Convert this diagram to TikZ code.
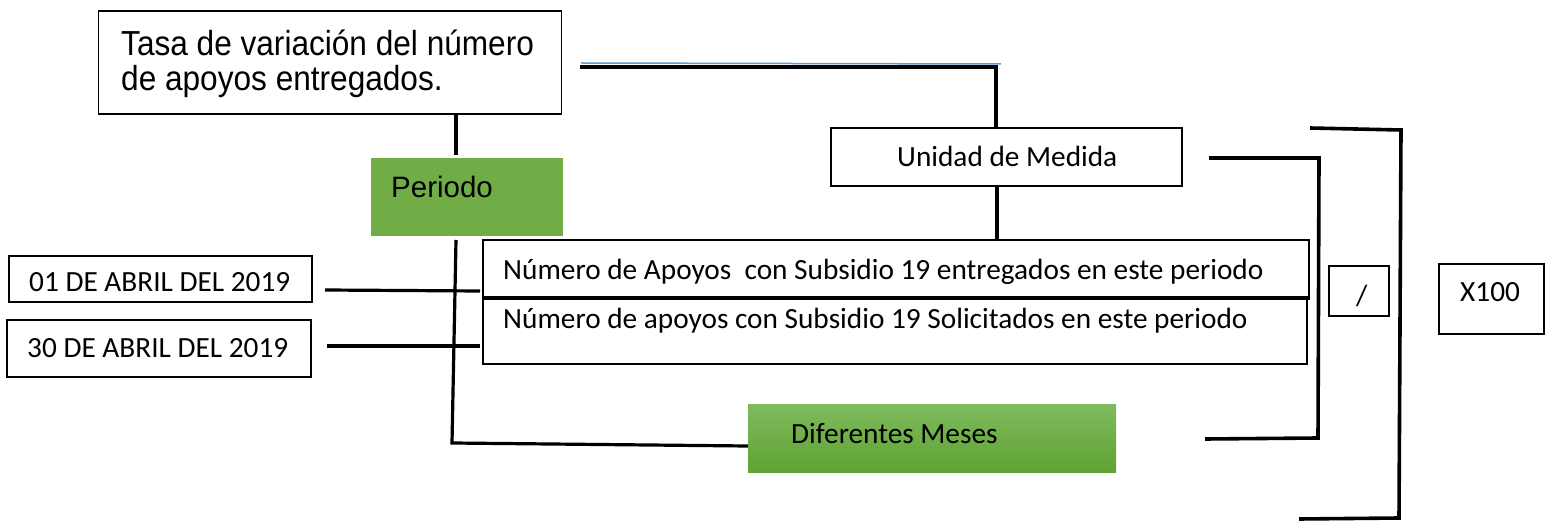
\documentclass[tikz,border=0pt]{standalone}
\usepackage{fontspec}
\setmainfont{Carlito}
\newfontfamily\arialf{Liberation Sans}
\definecolor{pgreen}{HTML}{70AD47}
\definecolor{gtop}{HTML}{7EBB5E}
\definecolor{gbot}{HTML}{60A232}
\definecolor{bline}{HTML}{5B9BD5}
\begin{document}
\begin{tikzpicture}[x=1pt,y=-1pt,
  box/.style={draw=black,line width=1.2pt,minimum width=#1,inner sep=0pt},
  conn/.style={draw=black,line width=3.2pt,line join=miter},
  txt/.style={inner sep=0pt,anchor=base west,font=\fontsize{29.3}{34}\selectfont},
  atxt/.style={inner sep=0pt,anchor=base west,font=\arialf\fontsize{31.6}{32.7}\selectfont}]
\useasboundingbox (0,0) rectangle (1556,521);
% boxes
\node[box=463pt,minimum height=103pt] (title) at (330,62.5) {};
\node[fill=pgreen,minimum width=192pt,minimum height=78pt,inner sep=0pt] (periodo) at (467,197) {};
\node[box=351pt,minimum height=58pt,line width=2.3pt] (unidad) at (1006.5,157) {};
\node[box=826pt,minimum height=59pt] (b1) at (896,269.5) {};
\node[box=824pt,minimum height=67pt] (b2) at (895,330.5) {};
\node[box=303pt,minimum height=46pt] (d1) at (160.5,279) {};
\node[box=304pt,minimum height=57pt] (d2) at (159,348.5) {};
\node[top color=gtop,bottom color=gbot,minimum width=368pt,minimum height=68pt,inner sep=0pt] (dif) at (932,438) {};
\node[box=60pt,minimum height=50pt] (slash) at (1359,291) {};
\node[box=105pt,minimum height=70pt] (xcien) at (1491.5,299) {};
% texts
\node[atxt] (titlet) at (121,91) {\scalebox{1}[1.1]{\begin{tabular}[b]{@{}l@{}}Tasa de variación del número\\de apoyos entregados.\end{tabular}}};
\node[atxt,font=\arialf\fontsize{29.5}{34}\selectfont] (periodot) at (391,198) {Periodo};
\node[txt] (unidadt) at (897,167) {Unidad de Medida};
\node[txt] (b1t) at (503,280) {Número de Apoyos\ \ con Subsidio 19 entregados en este periodo};
\node[txt] (b2t) at (503,329) {Número de apoyos con Subsidio 19 Solicitados en este periodo};
\node[txt] (d1t) at (29,292) {01 DE ABRIL DEL 2019};
\node[txt] (d2t) at (27,357) {30 DE ABRIL DEL 2019};
\node[txt] (dift) at (791,443) {Diferentes Meses};
\node[txt] (slasht) at (1356,306) {/};
\node[txt] (xcient) at (1460,302) {X100};
% coordinates
\coordinate (tl0) at (580,67);
\coordinate (tl1) at (996,67);
\coordinate (bl0) at (581,63);
\coordinate (bl1) at (1001,64);
\coordinate (pv0) at (456,114);
\coordinate (pv1) at (456,155);
\coordinate (pd0) at (456,240);
\coordinate (pd1) at (452,443);
\coordinate (u0) at (997,186);
\coordinate (u1) at (997,240);
\coordinate (l1a) at (325,290);
\coordinate (l1b) at (480,291);
\coordinate (l2a) at (327,346);
\coordinate (l2b) at (480,346);
\coordinate (ib0) at (1209,158);
\coordinate (ib1) at (1319,158);
\coordinate (ib2) at (1318,438);
\coordinate (ib3) at (1205,439);
\coordinate (ob0) at (1310,128);
\coordinate (ob1) at (1401,130);
\coordinate (ob2) at (1399,518);
\coordinate (ob3) at (1299,519);
% connectors
\draw[bline,line width=1.5pt] (bl0) -- (bl1);
\draw[conn] (tl0) -- (tl1) -- (unidad.north -| tl1);
\draw[conn] (pv0) -- (pv1);
\draw[conn] (unidad.south -| u0) -- (u1);
\draw[conn] (pd0) -- (pd1) -- (dif.west |- 0,446);
\draw[conn] (l1a) -- (l1b);
\draw[conn] (l2a) -- (l2b);
\draw[conn,line width=3.6pt] (ib0) -- (ib1) -- (ib2) -- (ib3);
\draw[conn,line width=3.6pt] (ob0) -- (ob1) -- (ob2) -- (ob3);
\end{tikzpicture}
\end{document}
